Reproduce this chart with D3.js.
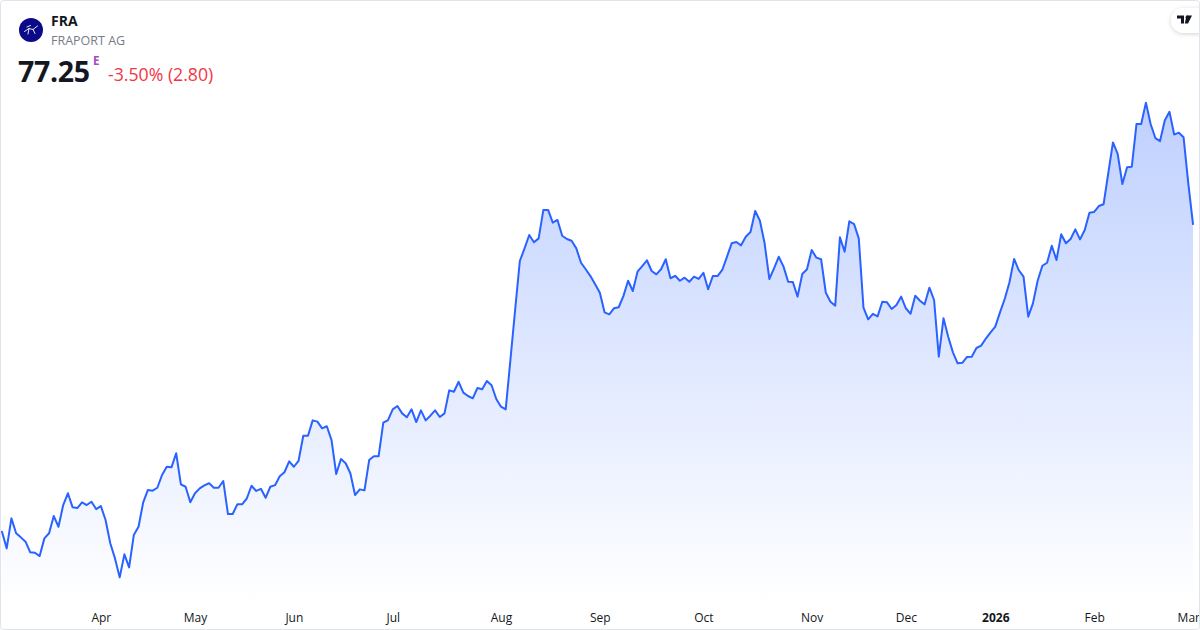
<!DOCTYPE html>
<html>
<head>
<meta charset="utf-8">
<script src="https://cdn.jsdelivr.net/npm/d3@7"></script>
<style>
  html, body { margin: 0; padding: 0; background: #fff; }
  svg { display: block; font-family: "Open Sans", "Noto Sans", sans-serif; }
</style>
</head>
<body>
<svg id="chart" width="1200" height="630"></svg>
<script>
// ---- header data ----
const symbol = "FRA";
const companyName = "FRAPORT AG";
const lastPrice = "77.25";
const priceFlag = "E";
const changeText = "-3.50% (2.80)";

// ---- series: daily close, 3 Mar 2025 .. 3 Mar 2026 (trading days) ----
const closes = [
  56.03, 54.88, 56.95, 55.92, 55.64, 55.34, 54.61, 54.58, 54.35, 55.57,
  55.92, 57.11, 56.37, 57.87, 58.68, 57.71, 57.66, 58.06, 57.87, 58.10,
  57.59, 57.80, 56.84, 55.23, 54.19, 52.88, 54.47, 53.57, 55.80, 56.37,
  58.06, 58.91, 58.86, 59.06, 59.94, 60.51, 60.47, 61.44, 59.30, 59.13,
  58.06, 58.68, 59.02, 59.23, 59.37, 59.06, 59.06, 59.53, 57.25, 57.25,
  57.92, 57.92, 58.32, 59.20, 58.84, 58.99, 58.37, 59.13, 59.24, 59.85,
  60.13, 60.88, 60.51, 60.92, 62.65, 62.65, 63.71, 63.62, 63.16, 63.30,
  62.35, 60.01, 61.04, 60.75, 60.06, 58.56, 58.95, 58.88, 60.97, 61.23,
  61.23, 63.55, 63.73, 64.47, 64.70, 64.19, 63.92, 64.47, 63.59, 64.40,
  63.71, 64.03, 64.40, 63.94, 64.19, 65.78, 65.68, 66.37, 65.62, 65.39,
  65.23, 65.94, 65.85, 66.42, 66.13, 65.18, 64.65, 64.47, 67.87, 71.32,
  74.70, 75.57, 76.49, 75.99, 76.26, 78.22, 78.22, 77.34, 77.53, 76.44,
  76.22, 76.10, 75.57, 74.58, 74.13, 73.66, 73.09, 72.51, 71.16, 71.02,
  71.44, 71.51, 72.28, 73.34, 72.63, 73.96, 74.35, 74.75, 74.01, 73.78,
  74.13, 74.82, 73.51, 73.68, 73.34, 73.55, 73.27, 73.62, 73.46, 73.89,
  72.75, 73.66, 73.66, 74.08, 74.99, 75.92, 76.01, 75.78, 76.37, 76.70,
  78.15, 77.48, 75.92, 73.46, 74.19, 74.99, 74.33, 73.27, 73.25, 72.24,
  73.80, 74.13, 75.46, 74.93, 74.82, 72.51, 71.89, 71.62, 76.33, 75.34,
  77.44, 77.25, 76.26, 71.48, 70.68, 71.06, 70.88, 71.89, 71.85, 71.39,
  71.66, 72.24, 71.44, 71.06, 72.31, 71.96, 71.71, 72.86, 72.01, 68.10,
  70.75, 69.48, 68.40, 67.64, 67.68, 68.08, 68.10, 68.70, 68.86, 69.35,
  69.77, 70.17, 71.16, 72.08, 73.22, 74.84, 74.06, 73.62, 70.86, 71.78,
  73.34, 74.37, 74.58, 75.75, 74.77, 76.54, 75.92, 76.22, 76.88, 76.19,
  76.84, 78.03, 78.08, 78.49, 78.61, 80.75, 82.88, 82.08, 80.01, 81.16,
  81.20, 84.15, 84.15, 85.62, 84.15, 83.18, 82.97, 84.39, 84.99, 83.42,
  83.55, 83.23, 80.05, 77.25
];

// ---- x axis ticks (index of first trading day of each month) ----
const tickLabels = ["Apr", "May", "Jun", "Jul", "Aug", "Sep", "Oct", "Nov", "Dec", "2026", "Feb", "Mar"];
const tickIndex  = [21, 41, 62, 83, 106, 127, 149, 172, 192, 211, 232, 252];
const boldTicks  = ["2026"];

// ---- layout ----
const W = 1200, H = 630;
const svg = d3.select("#chart");
const lineColor = "#2962ff";

const x = d3.scaleLinear().domain([0, closes.length - 1]).range([2, 1193]);
const y = d3.scaleLinear().domain([51.32, 92.70]).range([600, 0]);
const paneBottom = 602;

// gradient
const defs = svg.append("defs");
const grad = defs.append("linearGradient")
  .attr("id", "areaGrad")
  .attr("gradientUnits", "userSpaceOnUse")
  .attr("x1", 0).attr("x2", 0)
  .attr("y1", y(d3.max(closes))).attr("y2", paneBottom);
grad.append("stop").attr("offset", 0).attr("stop-color", lineColor).attr("stop-opacity", 0.3);
grad.append("stop").attr("offset", 1).attr("stop-color", lineColor).attr("stop-opacity", 0.0);

const filt = defs.append("filter").attr("id", "shadow").attr("x", "-50%").attr("y", "-50%").attr("width", "200%").attr("height", "200%");
filt.append("feDropShadow").attr("dx", 0).attr("dy", 1).attr("stdDeviation", 2)
  .attr("flood-color", "#000").attr("flood-opacity", 0.18);

// area & line
const area = d3.area()
  .x((d, i) => x(i))
  .y0(paneBottom)
  .y1(d => y(d));
const line = d3.line()
  .x((d, i) => x(i))
  .y(d => y(d));

svg.append("path")
  .datum(closes)
  .attr("d", area)
  .attr("fill", "url(#areaGrad)");

svg.append("path")
  .datum(closes)
  .attr("d", line)
  .attr("fill", "none")
  .attr("stroke", lineColor)
  .attr("stroke-width", 2)
  .attr("stroke-linejoin", "round")
  .attr("stroke-linecap", "round");

// x axis
const xAxis = d3.axisBottom(x)
  .tickValues(tickIndex)
  .tickFormat((d, i) => tickLabels[i])
  .tickSize(0)
  .tickPadding(0);
const gx = svg.append("g")
  .attr("transform", `translate(0, ${paneBottom + 11})`)
  .call(xAxis);
gx.select(".domain").remove();
gx.selectAll("text")
  .attr("fill", "#131722")
  .attr("font-size", 12)
  .attr("font-family", "'Open Sans', 'Noto Sans', sans-serif")
  .attr("font-weight", d => boldTicks.includes(tickLabels[tickIndex.indexOf(d)]) ? 700 : 400);

// header
const hdr = svg.append("g");
hdr.append("circle").attr("cx", 31).attr("cy", 30).attr("r", 12).attr("fill", "#0b0b8a");
// stylised logo mark
hdr.append("path")
  .attr("d", "M24.5,31.5 L29,28.5 L33,29.5 L37.5,26 M29,28.5 L28,34 M33,29.5 L35,33.5 M27,27 L30.5,25.5")
  .attr("fill", "none").attr("stroke", "#fff").attr("stroke-width", 0.9).attr("stroke-linecap", "round");

hdr.append("text").attr("x", 51).attr("y", 26)
  .attr("font-size", 14).attr("font-weight", 700).attr("fill", "#131722").text(symbol);
hdr.append("text").attr("x", 51).attr("y", 45)
  .attr("font-size", 12.5).attr("fill", "#787b86").text(companyName);
hdr.append("text").attr("x", 18).attr("y", 82)
  .attr("font-size", 28.5).attr("font-weight", 700).attr("fill", "#131722").attr("letter-spacing", -0.3).text(lastPrice);
hdr.append("text").attr("x", 93).attr("y", 65)
  .attr("font-size", 11.5).attr("font-weight", 700).attr("fill", "#ab47bc").text(priceFlag);
hdr.append("text").attr("x", 108).attr("y", 81)
  .attr("font-size", 17.7).attr("fill", "#f23645").text(changeText);

// TradingView badge
const badge = svg.append("g");
badge.append("rect").attr("x", 1171).attr("y", 8).attr("width", 40).attr("height", 25).attr("rx", 12.5)
  .attr("fill", "#fff").attr("filter", "url(#shadow)");
badge.append("path")
  .attr("d", "M1177,15.5 h7 v8 h-3 v-5 h-4 Z M1186.5,15.5 h5.5 l-4,8 h-3.2 Z")
  .attr("fill", "#131722");
badge.append("circle").attr("cx", 1187.3).attr("cy", 17.3).attr("r", 1.7).attr("fill", "#131722");

// outer border
svg.append("rect").attr("x", 0.5).attr("y", 0.5).attr("width", W - 1).attr("height", H - 1)
  .attr("rx", 3).attr("fill", "none").attr("stroke", "#e0e3eb");
</script>
</body>
</html>
